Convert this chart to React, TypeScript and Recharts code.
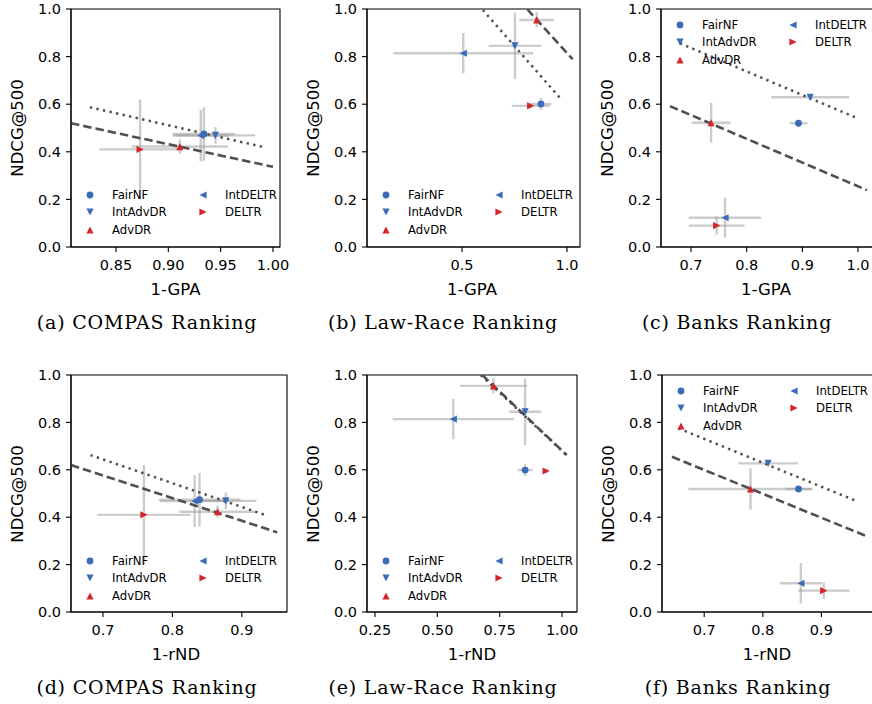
import React from 'react';
import { ScatterChart, Scatter, XAxis, YAxis, ErrorBar, ReferenceLine, ReferenceArea } from 'recharts';

// ---------- data ----------
const methods = ['FairNF', 'IntAdvDR', 'AdvDR', 'IntDELTR', 'DELTR'];
const methodColors = ['#3b6cb7', '#3b6cb7', '#d3262b', '#3b6cb7', '#d3262b'];
const methodShapes = ['circle', 'down', 'up', 'left', 'right'];

const yTicks = [0, 0.2, 0.4, 0.6, 0.8, 1.0];

// (a) COMPAS, 1-GPA
const compasGpaX = [0.934, 0.945, 0.911, 0.931, 0.873];
const compasGpaY = [0.475, 0.469, 0.422, 0.468, 0.41];
const compasGpaXErr = [0.03, 0.038, 0.046, 0.027, 0.039];
const compasGpaYErr = [0.113, 0.035, 0.03, 0.109, 0.21];
const compasGpaDotted = [[0.825, 0.587], [0.99, 0.421]];
const compasGpaDashed = [[0.807, 0.52], [1.0, 0.337]];
const compasGpaTicks = [0.85, 0.9, 0.95, 1.0];

// (b) Law-Race, 1-GPA
const lawGpaX = [0.876, 0.752, 0.856, 0.506, 0.827];
const lawGpaY = [0.601, 0.845, 0.954, 0.814, 0.593];
const lawGpaXErr = [0.05, 0.125, 0.083, 0.332, 0.09];
const lawGpaYErr = [0.025, 0.14, 0.032, 0.085, 0.01];
const lawGpaDotted = [[0.599, 0.996], [0.975, 0.618]];
const lawGpaDashed = [[0.811, 0.999], [1.027, 0.789]];
const lawGpaTicks = [0.5, 1.0];

// (c) Banks, 1-GPA
const banksGpaX = [0.893, 0.914, 0.736, 0.761, 0.746];
const banksGpaY = [0.52, 0.629, 0.522, 0.123, 0.09];
const banksGpaXErr = [0.016, 0.07, 0.035, 0.065, 0.05];
const banksGpaYErr = [0.008, 0.008, 0.084, 0.084, 0.038];
const banksGpaDotted = [[0.68, 0.856], [0.999, 0.541]];
const banksGpaDashed = [[0.662, 0.592], [1.016, 0.239]];
const banksGpaTicks = [0.7, 0.8, 0.9, 1.0];

// (d) COMPAS, 1-rND
const compasRndX = [0.839, 0.877, 0.865, 0.832, 0.759];
const compasRndY = [0.474, 0.469, 0.423, 0.468, 0.41];
const compasRndXErr = [0.059, 0.044, 0.055, 0.05, 0.067];
const compasRndYErr = [0.113, 0.035, 0.025, 0.109, 0.21];
const compasRndDotted = [[0.682, 0.662], [0.935, 0.408]];
const compasRndDashed = [[0.654, 0.62], [0.951, 0.336]];
const compasRndTicks = [0.7, 0.8, 0.9];

// (e) Law-Race, 1-rND
const lawRndX = [0.852, 0.852, 0.725, 0.564, 0.936];
const lawRndY = [0.599, 0.845, 0.954, 0.814, 0.595];
const lawRndXErr = [0.03, 0.065, 0.134, 0.243, 0.01];
const lawRndYErr = [0.025, 0.14, 0.032, 0.085, 0.01];
const lawRndDotted = [[0.674, 1.0], [1.015, 0.665]];
const lawRndDashed = [[0.68, 1.0], [1.019, 0.662]];
const lawRndTicks = [0.25, 0.5, 0.75, 1.0];

// (f) Banks, 1-rND
const banksRndX = [0.861, 0.809, 0.779, 0.865, 0.904];
const banksRndY = [0.519, 0.627, 0.519, 0.121, 0.09];
const banksRndXErr = [0.022, 0.051, 0.106, 0.036, 0.044];
const banksRndYErr = [0.008, 0.008, 0.087, 0.085, 0.035];
const banksRndDotted = [[0.656, 0.775], [0.963, 0.465]];
const banksRndDashed = [[0.645, 0.655], [0.979, 0.318]];
const banksRndTicks = [0.7, 0.8, 0.9];

// ---------- layout ----------
const panels = [
  { caption: '(a) COMPAS Ranking', xLabel: '1-GPA', x: compasGpaX, y: compasGpaY, xErr: compasGpaXErr, yErr: compasGpaYErr, dotted: compasGpaDotted, dashed: compasGpaDashed, ticks: compasGpaTicks, dec: 2, domain: [0.807, 1.0067], left: 71, right: 280, top: 9, bottom: 247, legendUpper: false },
  { caption: '(b) Law-Race Ranking', xLabel: '1-GPA', x: lawGpaX, y: lawGpaY, xErr: lawGpaXErr, yErr: lawGpaYErr, dotted: lawGpaDotted, dashed: lawGpaDashed, ticks: lawGpaTicks, dec: 1, domain: [0.0476, 1.062], left: 367, right: 580, top: 9, bottom: 247, legendUpper: false },
  { caption: '(c) Banks Ranking', xLabel: '1-GPA', x: banksGpaX, y: banksGpaY, xErr: banksGpaXErr, yErr: banksGpaYErr, dotted: banksGpaDotted, dashed: banksGpaDashed, ticks: banksGpaTicks, dec: 1, domain: [0.646, 1.0395], left: 661, right: 880, top: 9, bottom: 247, legendUpper: true },
  { caption: '(d) COMPAS Ranking', xLabel: '1-rND', x: compasRndX, y: compasRndY, xErr: compasRndXErr, yErr: compasRndYErr, dotted: compasRndDotted, dashed: compasRndDashed, ticks: compasRndTicks, dec: 1, domain: [0.654, 0.965], left: 71, right: 287, top: 375, bottom: 612, legendUpper: false },
  { caption: '(e) Law-Race Ranking', xLabel: '1-rND', x: lawRndX, y: lawRndY, xErr: lawRndXErr, yErr: lawRndYErr, dotted: lawRndDotted, dashed: lawRndDashed, ticks: lawRndTicks, dec: 2, domain: [0.218, 1.06], left: 367, right: 577, top: 375, bottom: 612, legendUpper: false },
  { caption: '(f) Banks Ranking', xLabel: '1-rND', x: banksRndX, y: banksRndY, xErr: banksRndXErr, yErr: banksRndYErr, dotted: banksRndDotted, dashed: banksRndDashed, ticks: banksRndTicks, dec: 1, domain: [0.628, 1.0], left: 662, right: 880, top: 375, bottom: 612, legendUpper: true },
];

const SANS = "'DejaVu Sans', sans-serif";
const SERIF = "'DejaVu Serif', serif";
const LINE = '#505050';

function markerEl(kind: string, color: string, cx: number, cy: number) {
  if (kind === 'circle') return <circle cx={cx} cy={cy} r={3.4} fill={color} />;
  const s = 3.6;
  let pts: number[][] = [];
  if (kind === 'up') pts = [[cx, cy - s], [cx + s, cy + s], [cx - s, cy + s]];
  if (kind === 'down') pts = [[cx, cy + s], [cx + s, cy - s], [cx - s, cy - s]];
  if (kind === 'left') pts = [[cx - s, cy], [cx + s, cy - s], [cx + s, cy + s]];
  if (kind === 'right') pts = [[cx + s, cy], [cx - s, cy - s], [cx - s, cy + s]];
  return <polygon points={pts.map((p) => p.join(',')).join(' ')} fill={color} />;
}

const YW = 71;
const MR = 12;
const MT = 9;
const XH = 40;

function Panel({ cfg }: { cfg: any }) {
  const plotW = cfg.right - cfg.left;
  const plotH = cfg.bottom - cfg.top;
  const width = YW + plotW + MR;
  const height = MT + plotH + XH;
  const data = methods.map((m, i) => ({ name: m, x: cfg.x[i], y: cfg.y[i], ex: cfg.xErr[i], ey: cfg.yErr[i] }));
  const tickStyle = { fill: '#000', fontSize: 14.5, fontFamily: SANS };
  return (
    <div style={{ position: 'absolute', left: cfg.left - YW, top: cfg.top - MT, width, height }}>
      <ScatterChart width={width} height={height} margin={{ top: MT, right: MR, bottom: 0, left: 0 }}>
        <XAxis
          type="number"
          dataKey="x"
          domain={cfg.domain}
          allowDataOverflow
          ticks={cfg.ticks}
          interval={0}
          tickFormatter={(v: number) => v.toFixed(cfg.dec)}
          height={XH}
          axisLine={{ stroke: '#000', strokeWidth: 1.1 }}
          tickLine={{ stroke: '#000', strokeWidth: 1.1 }}
          tickSize={5}
          tickMargin={8}
          tick={tickStyle}
        />
        <YAxis
          type="number"
          dataKey="y"
          domain={[0, 1]}
          allowDataOverflow
          ticks={yTicks}
          interval={0}
          tickFormatter={(v: number) => v.toFixed(1)}
          width={YW}
          axisLine={{ stroke: '#000', strokeWidth: 1.1 }}
          tickLine={{ stroke: '#000', strokeWidth: 1.1 }}
          tickSize={5}
          tickMargin={5}
          tick={tickStyle}
        />
        <ReferenceArea x1={cfg.domain[0]} x2={cfg.domain[1]} y1={0} y2={1} fill="none" stroke="#000" strokeWidth={1.1} ifOverflow="visible" />
        {data.map((d, i) => (
          <Scatter key={'e' + i} data={[d]} isAnimationActive={false} shape={() => <g />}>
            <ErrorBar dataKey="ex" direction="x" width={0} stroke="#999" strokeOpacity={0.5} strokeWidth={2.4} />
            <ErrorBar dataKey="ey" direction="y" width={0} stroke="#999" strokeOpacity={0.5} strokeWidth={2.4} />
          </Scatter>
        ))}
        {data.map((d, i) => (
          <Scatter
            key={'m' + i}
            name={d.name}
            data={[d]}
            isAnimationActive={false}
            shape={(p: any) => markerEl(methodShapes[i], methodColors[i], p.cx, p.cy)}
          />
        ))}
        <ReferenceLine
          segment={[{ x: cfg.dotted[0][0], y: cfg.dotted[0][1] }, { x: cfg.dotted[1][0], y: cfg.dotted[1][1] }]}
          stroke={LINE}
          strokeWidth={2.5}
          strokeDasharray="2.4 4.3"
          ifOverflow="hidden"
        />
        <ReferenceLine
          segment={[{ x: cfg.dashed[0][0], y: cfg.dashed[0][1] }, { x: cfg.dashed[1][0], y: cfg.dashed[1][1] }]}
          stroke={LINE}
          strokeWidth={2.6}
          strokeDasharray="8.5 4"
          ifOverflow="hidden"
        />
      </ScatterChart>
    </div>
  );
}

function PanelText({ cfg }: { cfg: any }) {
  const rowY0 = cfg.legendUpper ? cfg.top + 16 : cfg.top + 186;
  return (
    <>
      {methods.map((m, i) => {
        const col = i < 3 ? 0 : 1;
        const row = i < 3 ? i : i - 3;
        const mx = cfg.left + (col ? 132 : 19);
        const tx = cfg.left + (col ? 154 : 41);
        const y = rowY0 + row * 17.3;
        return (
          <React.Fragment key={m}>
            <svg style={{ position: 'absolute', left: mx - 6, top: y - 6 }} width={12} height={12}>
              {markerEl(methodShapes[i], methodColors[i], 6, 6)}
            </svg>
            <div style={{ position: 'absolute', left: tx, top: y - 8, height: 16, lineHeight: '16px', fontSize: 11.7, fontFamily: SANS, color: '#000', whiteSpace: 'nowrap' }}>
              {m}
            </div>
          </React.Fragment>
        );
      })}
      <div style={{ position: 'absolute', left: cfg.left - 54, top: (cfg.top + cfg.bottom) / 2, transform: 'translate(-50%, -50%) rotate(-90deg)', fontSize: 16.5, fontFamily: SANS, color: '#000', whiteSpace: 'nowrap' }}>
        NDCG@500
      </div>
      <div style={{ position: 'absolute', left: (cfg.left + Math.min(cfg.right, cfg.left + 210)) / 2, top: cfg.bottom + 42, transform: 'translate(-50%, -50%)', fontSize: 16.5, fontFamily: SANS, color: '#000', whiteSpace: 'nowrap' }}>
        {cfg.xLabel}
      </div>
      <div style={{ position: 'absolute', left: cfg.left + 76, top: cfg.bottom + 75, transform: 'translate(-50%, -50%)', fontSize: 19, letterSpacing: 0.8, fontFamily: SERIF, color: '#000', whiteSpace: 'nowrap' }}>
        {cfg.caption}
      </div>
    </>
  );
}

export default function App() {
  return (
    <div style={{ position: 'absolute', left: 0, top: 0, width: 872, height: 704, overflow: 'hidden', background: '#fff' }}>
      {panels.map((p, i) => (
        <Panel key={'p' + i} cfg={p} />
      ))}
      {panels.map((p, i) => (
        <PanelText key={'t' + i} cfg={p} />
      ))}
    </div>
  );
}
